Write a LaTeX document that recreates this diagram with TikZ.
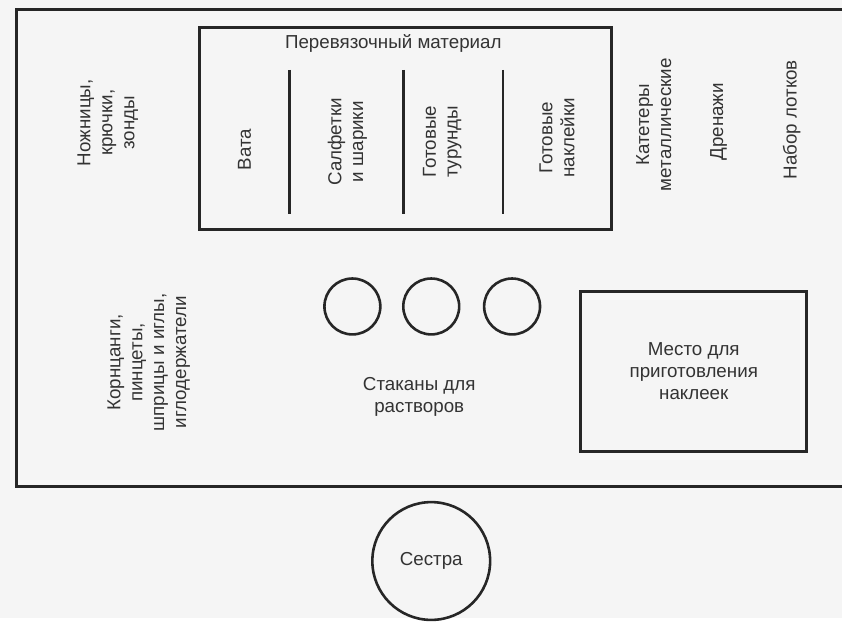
\documentclass[tikz,border=0pt]{standalone}
\usepackage{fontspec}
\setmainfont{Liberation Sans}
\usetikzlibrary{positioning}
\begin{document}
\begin{tikzpicture}[x=0.5pt, y=-0.5pt,
    wall/.style={draw=black!85, line width=1.5pt},
    lbl/.style={font=\fontsize{9.4}{11}\selectfont, text=black!80,
      align=center, inner sep=0pt},
    vlbl/.style={lbl, rotate=90},
    cup/.style={circle, wall, line width=1.3pt, inner sep=0pt,
      minimum size=28pt}]
    \fill[black!4] (0,0) rectangle (843,619);
    % room walls
    \draw[wall] (843,10) -- (17,10) -- (17,487) -- (843,487);

    % dressing material shelf
    \node[wall, minimum width=206.5pt, minimum height=101pt] (shelf) at (406.5,129) {};
    \node[lbl] (title) at (394,44) {Перевязочный материал};
    \foreach \x in {290,404,504}
      \draw[wall, line width=1.3pt] (\x,70) -- (\x,214);

    \begin{scope}[every node/.style={vlbl}]
      \node (vata) at (245,150) {Вата};
      \node (salf) at (348,142) {Салфетки\\и шарики};
      \node (tur) at (443,142) {Готовые\\турунды};
      \node (nakl) at (558,138) {Готовые\\наклейки};
      \node (nozh) at (108,123) {Ножницы,\\крючки,\\зонды};
      \node (kat) at (655,125) {Катетеры\\металлические};
      \node (dren) at (720,122) {Дренажи};
      \node (lotki) at (793,120) {Набор лотков};
      \node (korn) at (149,363) {Корнцанги,\\пинцеты,\\шприцы и иглы,\\иглодержатели};
    \end{scope}

    % cups
    \node[cup] (c1) at (353,307) {};
    \node[cup] (c2) at (432,307) {};
    \node[cup] (c3) at (513,307) {};
    \node[lbl] (cups) at (420,398) {Стаканы для\\растворов};

    \node[wall, lbl, minimum width=113pt, minimum height=80pt] (place) at (695,372)
      {Место для\\приготовления\\наклеек};

    \node[cup, lbl, wall, line width=1.3pt, minimum size=59pt] (nurse) at (432,562) {Сестра};
\end{tikzpicture}
\end{document}
